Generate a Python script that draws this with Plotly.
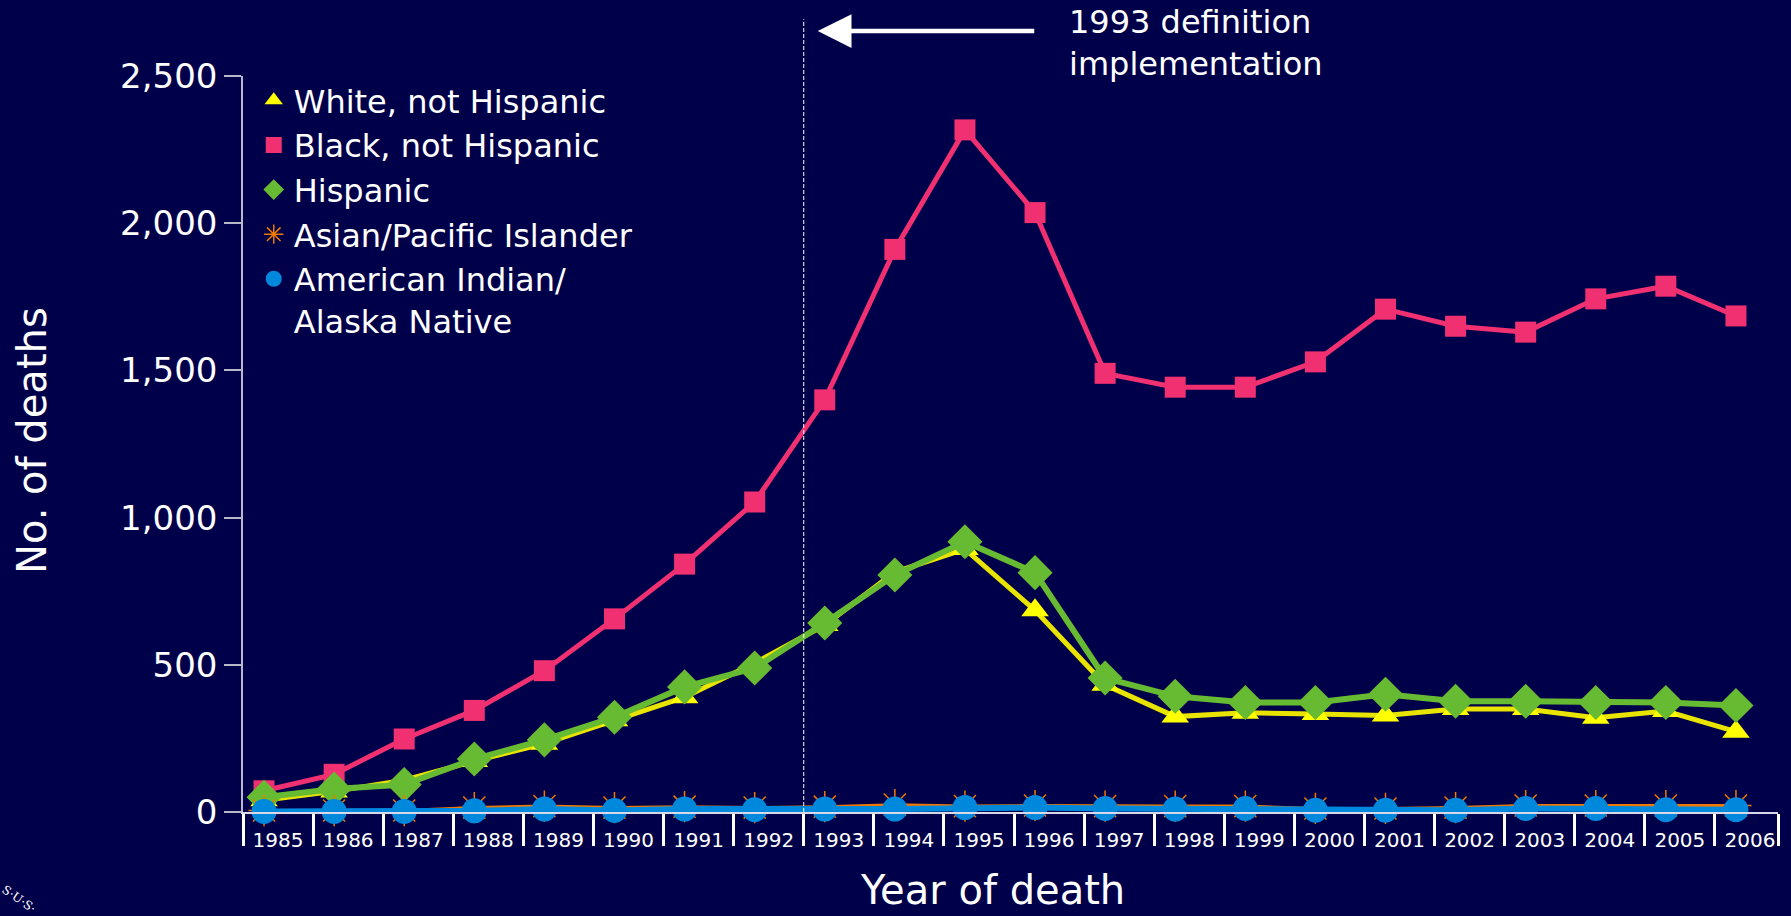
import plotly.graph_objects as go

# ---------------- data ----------------
years = list(range(1985, 2007))
year_labels = [str(y) for y in years]

white_nh = [40, 70, 108, 173, 232, 312, 390, 506, 635, 815, 893, 685, 432,
            324, 337, 333, 328, 350, 350, 320, 343, 273]
black_nh = [72, 128, 248, 345, 480, 656, 842, 1053, 1400, 1911, 2317, 2036, 1490,
            1443, 1443, 1529, 1708, 1650, 1630, 1743, 1786, 1685]
hispanic = [50, 78, 93, 180, 245, 322, 425, 489, 642, 805, 918, 813, 455,
            393, 372, 372, 400, 376, 376, 372, 372, 362]
asian_pi = [5, 5, 5, 15, 20, 15, 18, 15, 18, 25, 20, 22, 20,
            20, 20, 12, 12, 15, 22, 22, 22, 22]
aian = [2, 2, 2, 4, 10, 5, 10, 8, 10, 10, 15, 15, 12,
        10, 12, 6, 6, 6, 12, 12, 8, 8]

y_ticks = [0, 500, 1000, 1500, 2000, 2500]

series_names = ["White, not Hispanic", "Black, not Hispanic", "Hispanic",
                "Asian/Pacific Islander", "American Indian/<br>Alaska Native"]

# ---------------- style ----------------
BG = "#00004A"
FONT = "DejaVu Sans"
band_offset = 0.3          # category bands start 0.3 before each year
x_end = 2006.6
definition_boundary = 1992.7

styles = {
    "white": dict(line=dict(color="#E8E400", width=5),
                  marker=dict(symbol="triangle-up", size=24, color="#FFFF00")),
    "black": dict(line=dict(color="#F03070", width=5),
                  marker=dict(symbol="square", size=21, color="#F03070")),
    "hisp": dict(line=dict(color="#66BB33", width=6),
                 marker=dict(symbol="diamond", size=27, color="#66BB33")),
    "asian": dict(line=dict(color="#F07800", width=3),
                  marker=dict(symbol="asterisk-open", size=26, color="#F07800",
                              line=dict(color="#F07800", width=1.5))),
    "aian": dict(line=dict(color="#0088DD", width=6),
                 marker=dict(symbol="circle", size=25, color="#0088DD")),
}

fig = go.Figure()

draw_order = [("white", white_nh), ("black", black_nh), ("hisp", hispanic),
              ("asian", asian_pi), ("aian", aian)]
for key, vals in draw_order:
    st = styles[key]
    fig.add_trace(go.Scatter(x=years, y=vals, mode="lines+markers",
                             line=st["line"], marker=st["marker"],
                             showlegend=False, cliponaxis=False, hoverinfo="x+y"))

# legend-only entries (markers only, like the original key)
for key, name in zip(["white", "black", "hisp", "asian", "aian"], series_names):
    st = styles[key]
    fig.add_trace(go.Scatter(x=[None], y=[None], mode="markers", name=name,
                             marker=st["marker"], showlegend=True))

band_edges = [y - band_offset for y in years] + [x_end]

fig.update_layout(
    width=1791, height=916,
    paper_bgcolor=BG, plot_bgcolor=BG,
    margin=dict(l=243, r=13, t=76, b=104),
    font=dict(family=FONT, color="white"),
    showlegend=True,
    legend=dict(x=0.007, y=1.004, xanchor="left", yanchor="top",
                bgcolor="rgba(0,0,0,0)", font=dict(size=32, color="white", family=FONT),
                valign="top", itemsizing="trace"),
    xaxis=dict(range=[years[0] - band_offset, x_end],
               tickmode="array", tickvals=[y + 0.5 - band_offset for y in years],
               ticktext=year_labels, ticks="", showline=True, linecolor="#D8D8E8",
               linewidth=1.5, showgrid=False, zeroline=False,
               tickfont=dict(family=FONT, size=20, color="white"),
               ticklabelstandoff=9,
               minor=dict(tickmode="array", tickvals=band_edges, ticks="outside",
                          ticklen=32, tickwidth=3, tickcolor="white", showgrid=False)),
    yaxis=dict(range=[0, 2500], tickmode="array", tickvals=y_ticks, tickformat=",d",
               ticks="outside", ticklen=17, tickwidth=1.5, tickcolor="#B8B8C8",
               showline=True, linecolor="#B8B8C8", linewidth=1.5,
               showgrid=False, zeroline=False,
               tickfont=dict(family=FONT, size=34, color="white")),
    shapes=[dict(type="line", xref="x", yref="paper", x0=definition_boundary,
                 x1=definition_boundary, y0=0, y1=1.077,
                 line=dict(color="white", width=1, dash="4px,2px"))],
    annotations=[
        dict(text="No. of deaths", xref="paper", yref="paper", x=-0.137, y=0.505,
             xanchor="center", yanchor="middle", textangle=-90, showarrow=False,
             font=dict(size=40, color="white", family=FONT)),
        dict(text="Year of death", xref="paper", yref="paper", x=0.488, y=-0.106,
             xanchor="center", yanchor="middle", showarrow=False,
             font=dict(size=40, color="white", family=FONT)),
        dict(text="1993 definition<br>implementation", xref="paper", yref="paper",
             x=0.537, y=1.045, xanchor="left", yanchor="middle", align="left",
             showarrow=False, font=dict(size=32, color="white", family=FONT)),
        dict(text="", xref="x", yref="paper", x=1992.9, y=1.061,
             ax=218, ay=0, showarrow=True, arrowhead=2, arrowsize=1.5,
             arrowwidth=4.5, arrowcolor="white"),
        dict(text="S·U·S·", xref="paper", yref="paper", x=-0.146, y=-0.118,
             xanchor="center", yanchor="middle", textangle=35, showarrow=False,
             font=dict(size=12, color="white", family="DejaVu Serif")),
    ],
)

fig.write_html("out.html",
               config={"displayModeBar": False},
               post_script="document.body.style.margin='0';"
                           "document.body.style.background='" + BG + "';")
